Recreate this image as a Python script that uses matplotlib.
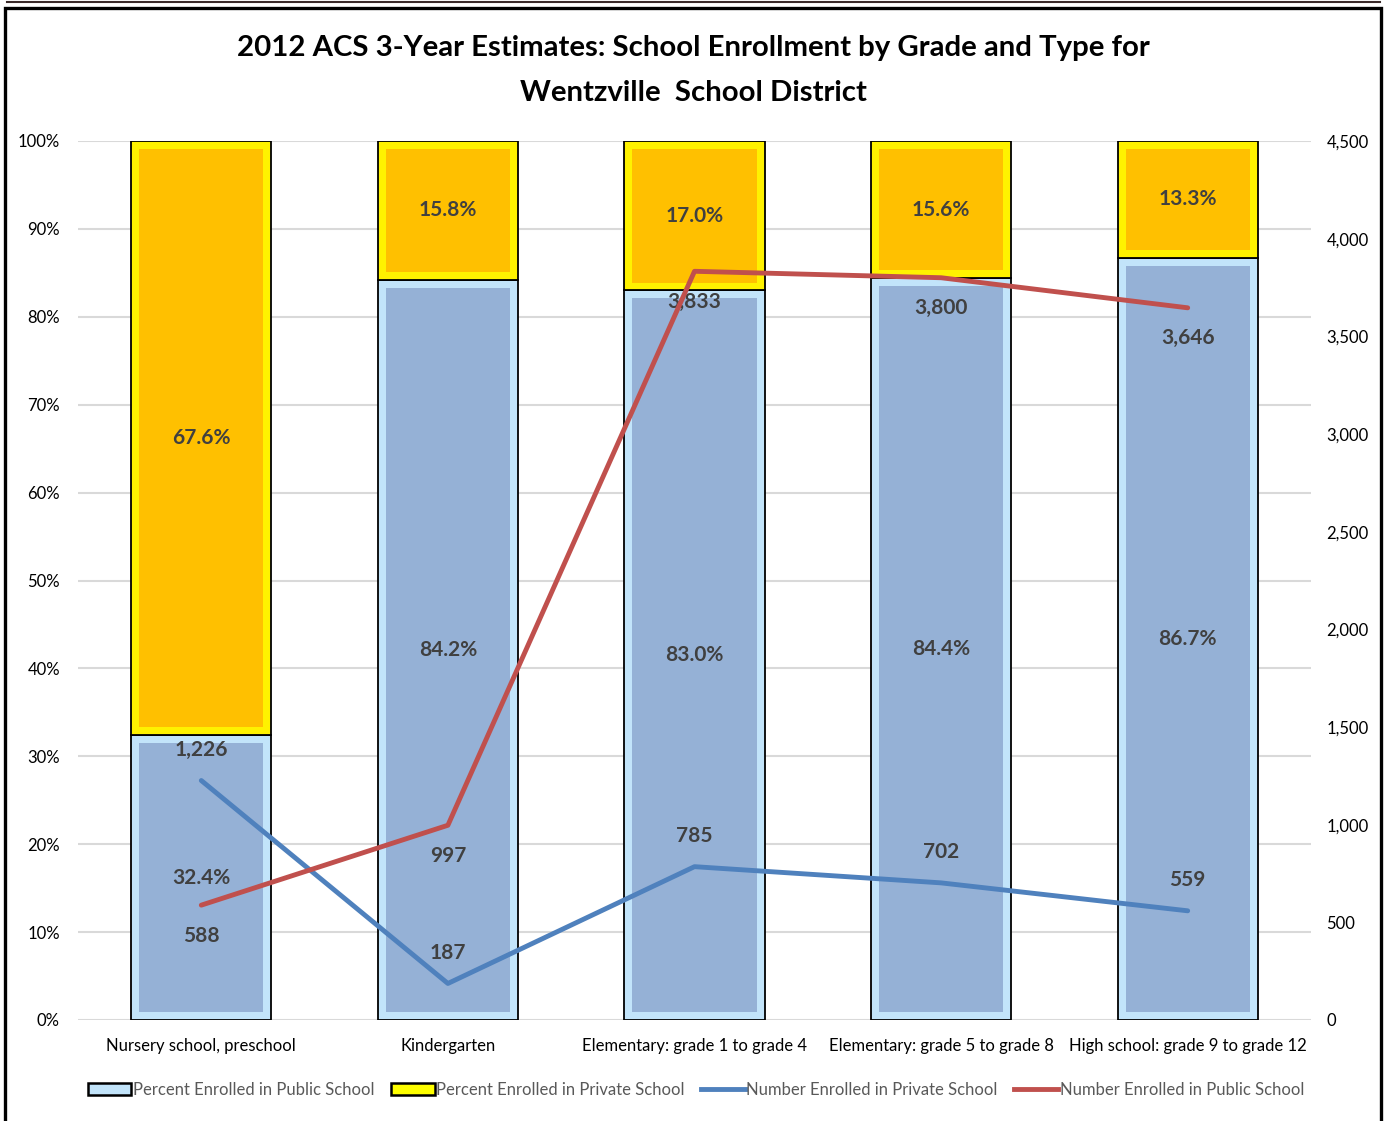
import numpy as np
import matplotlib.pyplot as plt
from matplotlib.patches import Rectangle, Patch
from matplotlib.lines import Line2D

plt.rcParams['font.family'] = ['Lato', 'DejaVu Sans']

# data
categories = ["Nursery school, preschool", "Kindergarten", "Elementary: grade 1 to grade 4",
              "Elementary: grade 5 to grade 8", "High school: grade 9 to grade 12"]
pct_public = [32.4, 84.2, 83.0, 84.4, 86.7]
pct_private = [67.6, 15.8, 17.0, 15.6, 13.3]
num_private = [1226, 187, 785, 702, 559]
num_public = [588, 997, 3833, 3800, 3646]

W, H = 1384, 1121
fig = plt.figure(figsize=(W / 100, H / 100), dpi=100)
ax = fig.add_axes([78 / W, 1 - 1020 / H, (1311 - 78) / W, (1020 - 141) / H])
ax2 = ax.twinx()

x = np.arange(len(categories))
bw = 0.568
insx = 0.0324   # bevel inset (x, data units)
insy = 0.9      # bevel inset (y, percent)
pub = np.array(pct_public)
prv = np.array(pct_private)

pub_edge, pub_fill = '#C2E4FA', '#95B1D6'
prv_edge, prv_fill = '#FFF200', '#FFC000'

ax.bar(x, pub, width=bw, color=pub_edge, edgecolor='black', lw=1.3, zorder=2)
ax.bar(x, pub - 2 * insy, bottom=insy, width=bw - 2 * insx, color=pub_fill, lw=0, zorder=3)
ax.bar(x, prv, bottom=pub, width=bw, color=prv_edge, edgecolor='black', lw=1.3, zorder=2)
ax.bar(x, prv - 2 * insy, bottom=pub + insy, width=bw - 2 * insx, color=prv_fill, lw=0, zorder=3)

lab_col = '#404040'
for i in x:
    ax.text(i, pub[i] / 2, f"{pub[i]:.1f}%", ha='center', va='center', fontsize=15,
            fontweight='bold', color=lab_col, zorder=5)
    ax.text(i, pub[i] + prv[i] / 2, f"{prv[i]:.1f}%", ha='center', va='center', fontsize=15,
            fontweight='bold', color=lab_col, zorder=5)

ax.set_xlim(-0.5, len(categories) - 0.5)
ax.set_ylim(0, 100)
ax.set_yticks(np.arange(0, 101, 10))
ax.set_yticklabels([f"{v}%" for v in range(0, 101, 10)])
ax.set_xticks(x)
ax.set_xticklabels(categories)
ax.yaxis.grid(True, color='#D9D9D9', lw=1.5, zorder=0)
ax.set_axisbelow(True)
ax.tick_params(axis='y', length=0, pad=13, labelsize=12)
ax.tick_params(axis='x', length=0, pad=13, labelsize=12)
for s in ax.spines.values():
    s.set_visible(False)

# lines on secondary axis
c_blue, c_red = '#4F81BD', '#C0504D'
ax2.plot(x, num_private, color=c_blue, lw=3.5, solid_capstyle='round', zorder=4)
ax2.plot(x, num_public, color=c_red, lw=3.5, solid_capstyle='round', zorder=4)
for i in x:
    ax2.annotate(f"{num_private[i]:,}", (i, num_private[i]), xytext=(0, 22), textcoords='offset points',
                 ha='center', va='center', fontsize=15, fontweight='bold', color=lab_col)
    ax2.annotate(f"{num_public[i]:,}", (i, num_public[i]), xytext=(0, -22), textcoords='offset points',
                 ha='center', va='center', fontsize=15, fontweight='bold', color=lab_col)
ax2.set_ylim(0, 4500)
ax2.set_yticks(np.arange(0, 4501, 500))
ax2.set_yticklabels([f"{v:,}" for v in range(0, 4501, 500)])
ax2.tick_params(axis='y', length=0, pad=11, labelsize=12)
for s in ax2.spines.values():
    s.set_visible(False)

# title
fig.text(693 / W, 1 - 48 / H, "2012 ACS 3-Year Estimates: School Enrollment by Grade and Type for",
         ha='center', va='center', fontsize=21.2, fontweight='bold')
fig.text(693 / W, 1 - 93 / H, "Wentzville  School District",
         ha='center', va='center', fontsize=21.2, fontweight='bold')

# legend
handles = [Patch(facecolor=pub_edge, edgecolor='black', lw=1.8),
           Patch(facecolor='#FFFF00', edgecolor='black', lw=1.8),
           Line2D([], [], color=c_blue, lw=3.5),
           Line2D([], [], color=c_red, lw=3.5)]
labels = ["Percent Enrolled in Public School", "Percent Enrolled in Private School",
          "Number Enrolled in Private School", "Number Enrolled in Public School"]
leg = fig.legend(handles, labels, loc='center', bbox_to_anchor=(696 / W, 1 - 1090 / H), ncol=4,
                 frameon=False, fontsize=12, handlelength=2.6, handleheight=0.7,
                 handletextpad=0.1, columnspacing=1.0, labelcolor='#595959')

# outer frame
fig.patches.append(Rectangle((5 / W, -0.01), (1381 - 5) / W, 1.01 - 8 / H, transform=fig.transFigure,
                             fill=False, edgecolor='black', lw=2.4))
fig.lines.append(Line2D([7 / W, 1380 / W], [1 - 1.5 / H, 1 - 1.5 / H], transform=fig.transFigure,
                        color='#3a2a2a', lw=1.5))

fig.savefig('out.png', dpi=100, facecolor='white')
